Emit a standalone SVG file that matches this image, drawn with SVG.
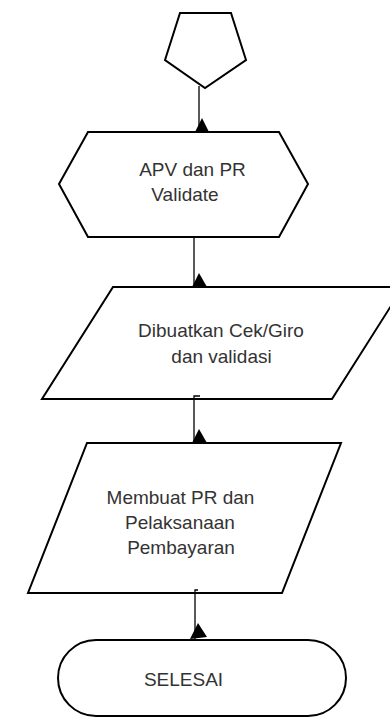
<svg xmlns="http://www.w3.org/2000/svg" width="390" height="718" viewBox="0 0 390 718">
<style>
.shape{fill:#fff;stroke:#000;stroke-width:2;stroke-linejoin:miter}
.lbl{font-family:"Liberation Sans",Arial,sans-serif;font-size:19px;fill:#333;text-anchor:middle}
.conn{stroke:#000;stroke-width:1.3;fill:none}
.head{fill:#000;stroke:none}
</style>
<rect width="390" height="718" fill="#fff"/>
<g id="start">
<polygon class="shape" points="180,13 231,13 246,60 205,88 165,60"/>
</g>
<g id="apv">
<polygon class="shape" points="88,132 279,132 308,184 279,237 88,237 59,184"/>
<text class="lbl" x="192.5" y="176">APV dan PR</text>
<text class="lbl" x="185" y="201">Validate</text>
</g>
<g id="cekgiro">
<polygon class="shape" points="113,287 403,287 332,399 42,399"/>
<text class="lbl" x="221" y="337">Dibuatkan Cek/Giro</text>
<text class="lbl" x="221.5" y="363">dan validasi</text>
</g>
<g id="pembayaran">
<polygon class="shape" points="87,443 341,443 282,593 28,593"/>
<text class="lbl" x="180.5" y="504">Membuat PR dan</text>
<text class="lbl" x="180" y="529">Pelaksanaan</text>
<text class="lbl" x="181" y="554">Pembayaran</text>
</g>
<g id="selesai">
<rect class="shape" x="58" y="640" width="288" height="76" rx="38" ry="38"/>
<text class="lbl" x="183.5" y="686">SELESAI</text>
</g>
<g id="connectors">
<path class="conn" d="M199,86 V132"/>
<polygon class="head" points="202,118 195,132 209,132"/>
<path class="conn" d="M194,238 V287"/>
<polygon class="head" points="199,273 192,287 207,287"/>
<path class="conn" d="M200,396 H194 V443"/>
<polygon class="head" points="199,429 192,443 207,443"/>
<path class="conn" d="M198,590 H195 V640"/>
<polygon class="head" points="198,623 190,639 207,637"/>
</g>
</svg>
